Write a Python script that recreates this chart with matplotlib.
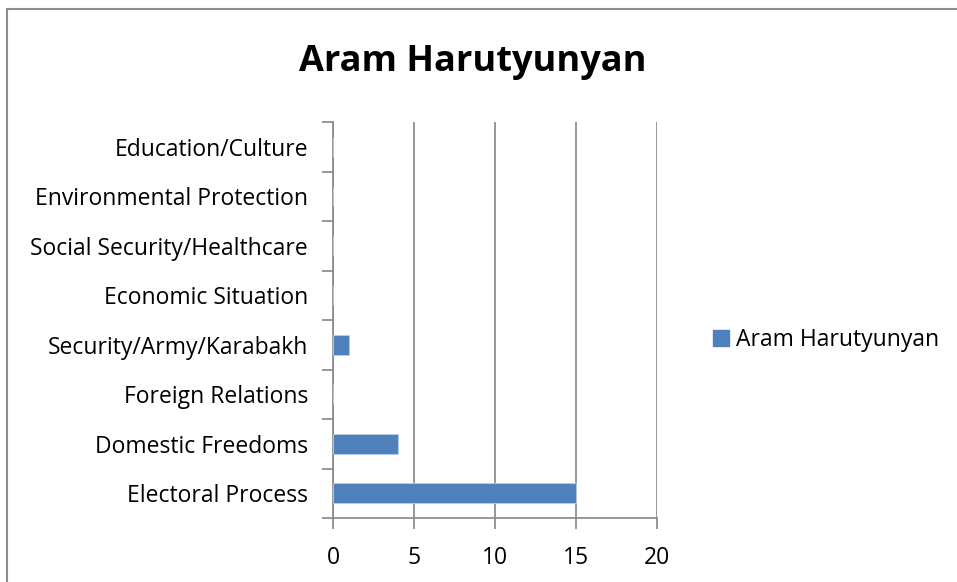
import matplotlib.pyplot as plt
from matplotlib.lines import Line2D

categories = ["Electoral Process", "Domestic Freedoms", "Foreign Relations",
              "Security/Army/Karabakh", "Economic Situation",
              "Social Security/Healthcare", "Environmental Protection",
              "Education/Culture"]
values = [15, 4, 0, 1, 0, 0, 0, 0]
series_name = "Aram Harutyunyan"
xticks = [0, 5, 10, 15, 20]

plt.rcParams['font.family'] = ['Open Sans', 'DejaVu Sans']

fig = plt.figure(figsize=(9.57, 5.82), dpi=100)
ax = fig.add_axes([0.348, 0.110, 0.3386, 0.680])

bar_color = "#4f81bd"
grid_color = "#868686"

ax.barh(range(len(categories)), values, height=0.4, color=bar_color,
        edgecolor="#b9cde5", linewidth=0.6, zorder=3, label=series_name)

ax.set_xlim(0, 20)
ax.set_ylim(-0.5, len(categories) - 0.5)
ax.set_xticks(xticks)
ax.set_xticklabels([str(t) for t in xticks], fontsize=16.5)
ax.set_yticks(range(len(categories)))
ax.set_yticklabels(categories, fontsize=16.5)
ax.tick_params(axis='y', length=0, pad=18)
ax.tick_params(axis='x', length=8, width=1.2, color=grid_color, pad=12)

# category boundary ticks on the left
ax.set_yticks([i - 0.5 for i in range(len(categories) + 1)], minor=True)
ax.tick_params(axis='y', which='minor', length=8, width=1.2, color=grid_color)

ax.xaxis.grid(True, color=grid_color, linewidth=1.2, zorder=0)
for side in ["top", "right"]:
    ax.spines[side].set_visible(False)
for side in ["left", "bottom"]:
    ax.spines[side].set_color(grid_color)
    ax.spines[side].set_linewidth(1.2)

fig.text(0.494, 0.893, series_name, ha='center', va='center',
         fontsize=26, fontweight='bold')

handle = Line2D([], [], marker='s', linestyle='none', markersize=11,
                markerfacecolor=bar_color, markeredgecolor=bar_color)
fig.legend([handle], [series_name], loc='center left',
           bbox_to_anchor=(0.743, 0.416), frameon=False, fontsize=16.5,
           handletextpad=0.2, handlelength=0.9, borderpad=0, borderaxespad=0)

# outer chart border (left and top visible)
fig.add_artist(Line2D([0.0068, 0.0068], [0.0, 0.984], transform=fig.transFigure,
                      color="#8c8c8c", linewidth=1.5))
fig.add_artist(Line2D([0.0068, 1.0], [0.984, 0.984], transform=fig.transFigure,
                      color="#8c8c8c", linewidth=1.5))

fig.savefig("out.png", dpi=100)
